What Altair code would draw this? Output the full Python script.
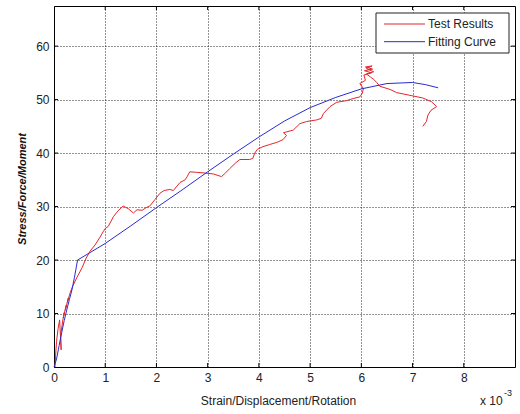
import altair as alt
import pandas as pd

# ---- data ----
red_x = [0.02, 0.03, 0.05, 0.08, 0.11, 0.14, 0.13, 0.17, 0.20, 0.18, 0.24, 0.22, 0.28, 0.26,
         0.32, 0.36, 0.45, 0.55, 0.62, 0.70, 0.80, 0.90, 0.96, 1.00, 1.06, 1.16, 1.25, 1.35,
         1.45, 1.55, 1.62, 1.72, 1.80, 1.87, 1.97, 2.07, 2.15, 2.26, 2.33, 2.46, 2.56, 2.60,
         2.65, 2.78, 2.91, 3.11, 3.27, 3.35, 3.43, 3.55, 3.63, 3.82, 3.88, 3.92, 3.97, 4.08,
         4.21, 4.35, 4.47, 4.54, 4.48, 4.67, 4.80, 4.93, 5.13, 5.22, 5.26, 5.39, 5.52, 5.71,
         5.84, 5.97, 6.02, 6.04, 5.97, 6.08, 6.05, 6.20, 6.06, 6.22, 6.08, 6.21, 6.10, 6.24,
         6.10, 6.18, 6.24, 6.30, 6.36, 6.56, 6.69, 6.95, 7.20, 7.37, 7.47, 7.36, 7.30, 7.27,
         7.20]
red_y = [0.0, 2.0, 4.8, 7.2, 8.8, 3.2, 6.0, 8.6, 10.2, 9.2, 11.6, 10.6, 12.9, 12.1,
         14.0, 15.0, 16.8, 18.6, 20.2, 21.6, 22.8, 24.3, 25.3, 25.9, 26.3, 28.1, 29.2, 30.1,
         29.6, 28.8, 29.4, 29.3, 29.8, 30.1, 31.3, 32.5, 33.0, 33.2, 33.0, 34.5, 35.0, 35.6,
         36.5, 36.4, 36.3, 36.1, 35.6, 36.3, 37.1, 38.2, 38.8, 38.8, 39.0, 40.0, 40.7, 41.2,
         41.6, 42.0, 42.5, 43.3, 43.8, 44.3, 45.5, 45.9, 46.2, 46.5, 47.4, 48.7, 49.5, 49.8,
         50.2, 50.5, 51.2, 52.1, 53.0, 53.6, 54.6, 55.0, 55.4, 55.7, 56.1, 56.3, 55.8, 55.2,
         54.8, 54.2, 53.8, 53.2, 52.5, 51.9, 51.3, 50.8, 50.3, 49.6, 48.7, 48.0, 47.1, 45.9,
         45.0]

blue_x = [0.0, 0.05, 0.10, 0.15, 0.20, 0.25, 0.30, 0.35, 0.40, 0.46, 1.0, 1.5, 2.0, 2.5,
          3.0, 3.5, 4.0, 4.5, 5.0, 5.5, 6.0, 6.5, 7.0, 7.25, 7.5]
blue_y = [0.0, 1.5, 4.0, 6.4, 8.7, 10.7, 12.6, 14.4, 16.8, 20.0, 23.1, 26.4, 29.8, 33.1,
          36.5, 39.8, 43.0, 46.0, 48.5, 50.4, 52.0, 53.0, 53.2, 52.8, 52.2]

series_names = ["Test Results", "Fitting Curve"]
series_colors = ["#e3262b", "#2b2bd0"]
x_ticks = [0, 1, 2, 3, 4, 5, 6, 7, 8]
y_ticks = [0, 10, 20, 30, 40, 50, 60]
x_title = "Strain/Displacement/Rotation"
y_title = "Stress/Force/Moment"
exp_base = "x 10"
exp_power = "-3"

# ---- tables ----
df = pd.concat([
    pd.DataFrame({"x": red_x, "y": red_y, "series": series_names[0], "i": range(len(red_x))}),
    pd.DataFrame({"x": blue_x, "y": blue_y, "series": series_names[1], "i": range(len(blue_x))}),
], ignore_index=True)
xt_df = pd.DataFrame({"x": x_ticks[1:]})
yt_df = pd.DataFrame({"y": y_ticks[1:]})
one = pd.DataFrame({"a": [0]})

W, H = 461, 361
FONT = "Liberation Sans"
xscale = alt.Scale(domain=[0, 9], nice=False, zero=False)
yscale = alt.Scale(domain=[0, 67.5], nice=False, zero=False)

xaxis = alt.Axis(values=x_ticks, grid=True, gridDash=[1, 2], gridColor="#000", gridOpacity=0.85,
                 ticks=False, domain=False, labelFontSize=12, labelFont=FONT, labelColor="#222",
                 labelPadding=5, labelFlush=False, title=x_title, titleFontSize=12, titleFont=FONT,
                 titleFontWeight="normal", titleColor="#222", titleX=224, titleY=33,
                 titleBaseline="middle", titleAlign="center")
yaxis = alt.Axis(values=y_ticks, grid=True, gridDash=[1, 2], gridColor="#000", gridOpacity=0.85,
                 ticks=False, domain=False, labelFontSize=12, labelFont=FONT, labelColor="#222",
                 labelPadding=5, title=y_title, titleFontSize=11, titleFont=FONT,
                 titleFontWeight="bold", titleFontStyle="italic", titleColor="#111",
                 titleX=-32, titleY=H / 2 + 2, titleBaseline="middle", titleAlign="center",
                 titleAngle=270)

X = alt.X("x:Q", scale=xscale, axis=xaxis)
Y = alt.Y("y:Q", scale=yscale, axis=yaxis)

lines = alt.Chart(df).mark_line(strokeWidth=1, interpolate="linear").encode(
    x=X, y=Y,
    color=alt.Color("series:N", scale=alt.Scale(domain=series_names, range=series_colors), legend=None),
    order=alt.Order("i:Q"),
)

tick_b = alt.Chart(xt_df).mark_rule(color="#000", strokeWidth=1).encode(x=X, y=alt.value(H), y2=alt.value(H - 4))
tick_t = alt.Chart(xt_df).mark_rule(color="#000", strokeWidth=1).encode(x=X, y=alt.value(0), y2=alt.value(4))
tick_l = alt.Chart(yt_df).mark_rule(color="#000", strokeWidth=1).encode(y=Y, x=alt.value(0), x2=alt.value(4))
tick_r = alt.Chart(yt_df).mark_rule(color="#000", strokeWidth=1).encode(y=Y, x=alt.value(W), x2=alt.value(W - 4))

# legend (drawn by hand, MATLAB style)
leg_box = alt.Chart(one).mark_rect(fill="white", stroke="#222", strokeWidth=1).encode(
    x=alt.value(322), x2=alt.value(455), y=alt.value(7), y2=alt.value(47))
legend_layers = [leg_box]
for k, (name, col) in enumerate(zip(series_names, series_colors)):
    yy = 18 + k * 17.7
    legend_layers.append(alt.Chart(one).mark_rule(color=col, strokeWidth=1).encode(
        x=alt.value(330), x2=alt.value(371), y=alt.value(yy)))
    legend_layers.append(alt.Chart(one).mark_text(align="left", baseline="middle", fontSize=12,
                                                  font=FONT, color="#222").encode(
        x=alt.value(374), y=alt.value(yy), text=alt.value(name)))

exp1 = alt.Chart(one).mark_text(align="left", baseline="middle", fontSize=12, font=FONT, color="#222").encode(
    x=alt.value(426), y=alt.value(395), text=alt.value(exp_base))
exp2 = alt.Chart(one).mark_text(align="left", baseline="middle", fontSize=9, font=FONT, color="#222").encode(
    x=alt.value(450), y=alt.value(387), text=alt.value(exp_power))

chart = alt.layer(lines, tick_b, tick_t, tick_l, tick_r, *legend_layers, exp1, exp2).properties(
    width=W, height=H,
    padding={"left": 54, "top": 6, "right": 5, "bottom": 47},
    autosize=alt.AutoSizeParams(type="none"),
    background="white",
).configure_view(stroke="#000", strokeWidth=1)

chart.save("out.html", embed_options={"renderer": "svg", "actions": False})
